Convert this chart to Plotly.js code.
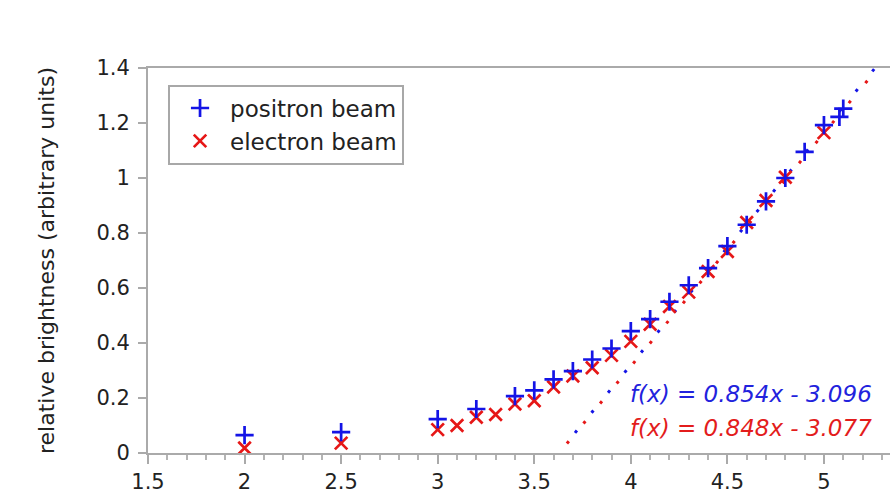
<!DOCTYPE html>
<html>
<head>
<meta charset="utf-8">
<script src="https://cdn.plot.ly/plotly-3.0.1.min.js"></script>
<style>
  html, body { margin: 0; padding: 0; background: #fff; }
  #chart { width: 890px; height: 491px; }
</style>
</head>
<body>
<div id="chart"></div>
<script>
// Measured relative brightness versus beam energy
const positronX = [2.0, 2.5, 3.0, 3.2, 3.4, 3.5, 3.6, 3.7, 3.8, 3.9, 4.0, 4.1, 4.2, 4.3, 4.4, 4.5, 4.6, 4.7, 4.8, 4.9, 5.0, 5.08, 5.1];
const positronY = [0.065, 0.076, 0.123, 0.16, 0.207, 0.228, 0.268, 0.298, 0.34, 0.38, 0.443, 0.487, 0.55, 0.61, 0.672, 0.752, 0.83, 0.915, 1.0, 1.095, 1.192, 1.222, 1.252];

const electronX = [2.0, 2.5, 3.0, 3.1, 3.2, 3.3, 3.4, 3.5, 3.6, 3.7, 3.8, 3.9, 4.0, 4.1, 4.2, 4.3, 4.4, 4.5, 4.6, 4.7, 4.8, 5.0];
const electronY = [0.018, 0.036, 0.085, 0.1, 0.13, 0.14, 0.178, 0.19, 0.24, 0.28, 0.31, 0.355, 0.406, 0.468, 0.533, 0.585, 0.66, 0.733, 0.838, 0.918, 1.003, 1.165];

// Linear fits f(x) = slope * x + intercept, each drawn over its own x span
const fitSlope = [0.854, 0.848];
const fitIntercept = [-3.096, -3.077];
const fitStart = [3.711, 3.669];
const fitEnd = [5.32, 5.32];

const blue = '#1414e6';
const red = '#e61717';
const font = 'DejaVu Sans, sans-serif';

function fitTrace(i, color) {
  const xs = [fitStart[i], fitEnd[i]];
  return {
    x: xs,
    y: xs.map(v => fitSlope[i] * v + fitIntercept[i]),
    mode: 'lines',
    line: { color: color, width: 3, dash: '3px,23px' },
    showlegend: false,
    hoverinfo: 'skip'
  };
}

function fitText(i) {
  const b = Math.abs(fitIntercept[i]).toFixed(3);
  const sign = fitIntercept[i] < 0 ? '-' : '+';
  return 'f(x) = ' + fitSlope[i].toFixed(3) + 'x ' + sign + ' ' + b;
}

const traces = [
  fitTrace(0, blue),
  fitTrace(1, red),
  {
    x: electronX, y: electronY,
    mode: 'markers', name: 'electron beam',
    marker: { symbol: 'x-thin', size: 12.5, line: { color: red, width: 2.7 }, color: red },
    cliponaxis: false
  },
  {
    x: positronX, y: positronY,
    mode: 'markers', name: 'positron beam',
    marker: { symbol: 'cross-thin', size: 13, line: { color: blue, width: 2.7 }, color: blue },
    cliponaxis: false
  }
];

const tickFont = { family: font, size: 21, color: '#222' };

const layout = {
  width: 890,
  height: 491,
  margin: { l: 148, r: 0, t: 68, b: 38 },
  paper_bgcolor: '#fff',
  plot_bgcolor: '#fff',
  showlegend: true,
  legend: {
    x: 0.027, y: 0.957, xanchor: 'left', yanchor: 'top',
    bordercolor: '#a8a8a8', borderwidth: 2, bgcolor: '#fff',
    font: { family: font, size: 23, color: '#222' },
    traceorder: 'reversed',
    itemwidth: 50
  },
  xaxis: {
    range: [1.5, 5.342],
    dtick: 0.5, tick0: 1.5,
    showgrid: false, zeroline: false,
    showline: true, linecolor: '#aaaaaa', linewidth: 2, mirror: true,
    ticks: 'outside', ticklen: 9, tickwidth: 2, tickcolor: '#aaaaaa',
    minor: { dtick: 0.1, ticks: 'outside', ticklen: 5, tickwidth: 2, tickcolor: '#b4b4b4' },
    tickfont: tickFont
  },
  yaxis: {
    range: [0, 1.4],
    dtick: 0.2,
    showgrid: false, zeroline: false,
    showline: true, linecolor: '#aaaaaa', linewidth: 2,
    ticks: 'outside', ticklen: 8, tickwidth: 2, tickcolor: '#aaaaaa',
    ticklabelstandoff: 4,
    tickfont: tickFont,
    title: { text: 'relative brightness (arbitrary units)', font: { family: font, size: 22, color: '#222' }, standoff: 36 }
  },
  annotations: [
    { text: fitText(0), x: 628, y: 394 },
    { text: fitText(1), x: 628, y: 428 }
  ].map((a, i) => ({
    text: a.text,
    xref: 'paper', yref: 'paper',
    x: (a.x - 148) / 742, y: (453 - a.y) / 385,
    xanchor: 'left', yanchor: 'middle',
    showarrow: false,
    font: { family: font, size: 23, color: i === 0 ? '#2222dd' : '#e31c1c', style: 'italic' }
  }))
};

Plotly.newPlot('chart', traces, layout, { displayModeBar: false, staticPlot: true });
</script>
</body>
</html>
